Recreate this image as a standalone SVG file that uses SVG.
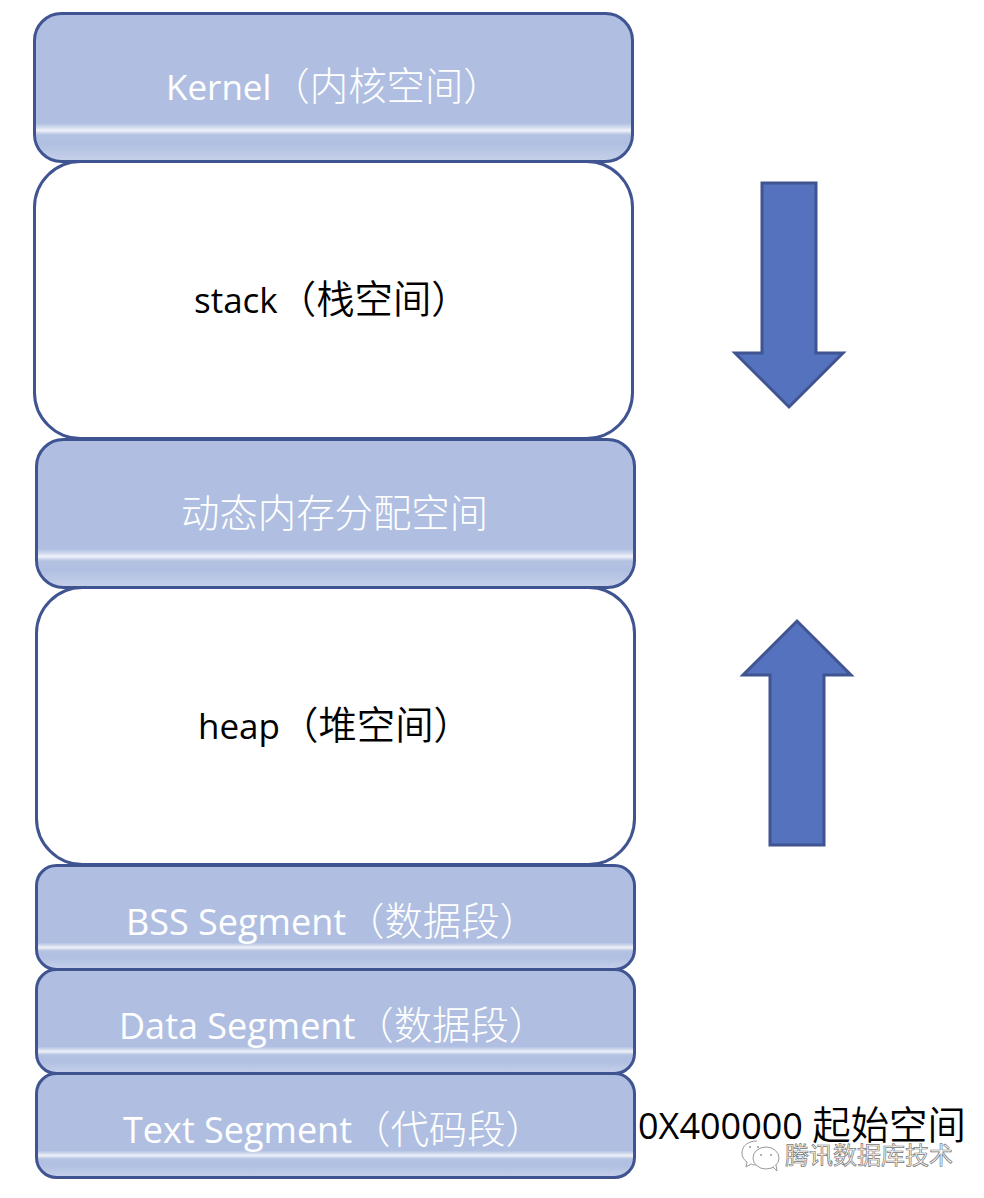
<svg xmlns="http://www.w3.org/2000/svg" width="984" height="1198" viewBox="0 0 984 1198">
<style>
.b{stroke:#3f5491;stroke-width:3}
.w{fill:#fff}
.t{font-family:"Open Sans","Noto Sans CJK SC",sans-serif;font-size:35px;font-weight:400}
.l{font-size:36px}
.c{font-family:"Noto Sans CJK SC",sans-serif;font-size:38.4px;font-weight:300}
.tw{fill:#fff}
.tk{fill:#000}
.tk .c{font-weight:350}
.a{fill:#5572be;stroke:#3f5491;stroke-width:3}
</style>
<defs>
<linearGradient id="g1" x1="0" y1="0" x2="0" y2="1"><stop offset="0" stop-color="#b0bfe1"/><stop offset=".74" stop-color="#b0bfe1"/><stop offset=".765" stop-color="#ccd6ec"/><stop offset=".79" stop-color="#eef1f9"/><stop offset=".82" stop-color="#b4c2e2"/><stop offset=".88" stop-color="#b0bfe1"/><stop offset="1" stop-color="#c6d1ea"/></linearGradient>
</defs>
<g id="kernel"><rect class="b" x="34.500" y="13.500" width="598" height="148" rx="27" fill="url(#g1)"/><text class="t tw" x="166" y="100">Kernel<tspan class="c">（内核空间）</tspan></text></g>
<g id="stack"><rect class="b w" x="34.500" y="161.500" width="598" height="277" rx="46"/><text class="t tk" x="194" y="313">stack<tspan class="c">（栈空间）</tspan></text></g>
<g id="dynamic"><rect class="b" x="36.500" y="439.500" width="598" height="148" rx="27" fill="url(#g1)"/><text class="t tw" x="181" y="527"><tspan class="c">动态内存分配空间</tspan></text></g>
<g id="heap"><rect class="b w" x="36.500" y="587.500" width="598" height="277" rx="46"/><text class="t tk" x="198" y="739">heap<tspan class="c">（堆空间）</tspan></text></g>
<g id="bss"><rect class="b" x="36.500" y="865.500" width="598" height="104" rx="20" fill="url(#g1)"/><text class="t tw l" x="126" y="935">BSS Segment<tspan class="c">（数据段）</tspan></text></g>
<g id="data"><rect class="b" x="36.500" y="969.500" width="598" height="104" rx="20" fill="url(#g1)"/><text class="t tw l" x="119" y="1039">Data Segment<tspan class="c">（数据段）</tspan></text></g>
<g id="text"><rect class="b" x="36.500" y="1073.500" width="598" height="104" rx="20" fill="url(#g1)"/><text class="t tw l" x="123" y="1143">Text Segment<tspan class="c">（代码段）</tspan></text></g>
<g id="connectors">
<path id="arrow-down" class="a" d="M762 183H816V353H843L789 407L735 353H762Z"/>
<path id="arrow-up" class="a" d="M770 845H824V675H851L797 621L743 675H770Z"/>
</g>
<g id="start-label"><text class="t tk l" x="638" y="1139">0X400000 <tspan class="c">起始空间</tspan></text></g>
<g id="watermark">
<path d="M757 1141c-9 0-15 5-15 12 0 4 2 7 5 9l-1 5 5-3c2 1 4 1 6 1" fill="#fff" stroke="#999" stroke-width="1"/>
<ellipse cx="766" cy="1158" rx="13" ry="11" fill="#fff" stroke="#999" stroke-width="1"/>
<path d="M773 1167l4 4-1-6" fill="#fff" stroke="#999" stroke-width="1"/>
<circle cx="761" cy="1155" r="1" fill="#999"/><circle cx="771" cy="1155" r="1" fill="#999"/><circle cx="750" cy="1147" r="1" fill="#999"/><circle cx="758" cy="1147" r="1" fill="#999"/>
<text x="785" y="1164" font-family="'Noto Sans CJK SC',sans-serif" font-size="24" fill="#fff" stroke="#777" stroke-width=".7">腾讯数据库技术</text>
</g>
</svg>
